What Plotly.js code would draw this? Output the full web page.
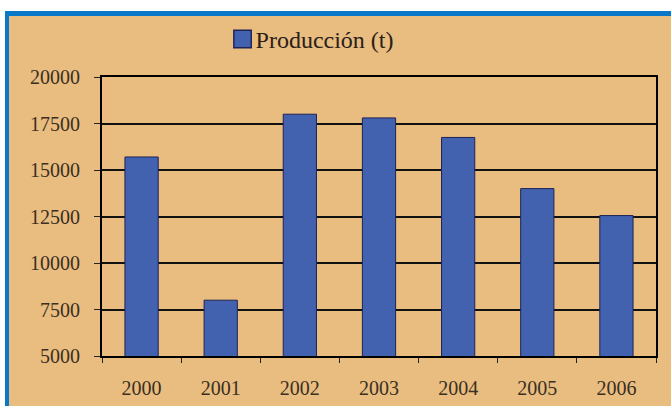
<!DOCTYPE html>
<html>
<head>
<meta charset="utf-8">
<script src="https://cdn.plot.ly/plotly-3.0.1.min.js"></script>
<style>
  html, body { margin:0; padding:0; background:#ffffff; width:671px; height:406px; overflow:hidden; }
  #frame { position:absolute; left:5px; top:11px; width:666px; height:395px;
           box-sizing:border-box; border-left:4px solid #0a78c8; border-top:5px solid #0a78c8; background:#e9bc80; }
  #chart { position:absolute; left:9px; top:16px; width:662px; height:390px; }
  #chart .legend .legendpoints path { transform: translate(27px,0) scale(1.45); }
</style>
</head>
<body>
<div id="frame"></div>
<div id="chart"></div>
<script>
const years = ['2000','2001','2002','2003','2004','2005','2006'];
const produccion = [15700, 8000, 18000, 17800, 16750, 14000, 12550];
const seriesName = 'Producción (t)';
const yTicks = [5000, 7500, 10000, 12500, 15000, 17500, 20000];

const tan = '#e9bc80';
const txt = '#3a2f22';
const fontFam = 'Liberation Serif, Times New Roman, serif';

const trace = {
  type: 'bar',
  x: years,
  y: produccion,
  name: seriesName,
  marker: { color: '#4262b0', line: { color: '#1c2456', width: 1 } },
  showlegend: true,
  hoverinfo: 'x+y'
};

const layout = {
  width: 662, height: 390,
  margin: { l: 93, r: 15, t: 61, b: 50, autoexpand: false },
  paper_bgcolor: tan,
  plot_bgcolor: tan,
  font: { family: fontFam, color: txt, size: 18 },
  bargap: 0.58,
  showlegend: true,
  legend: {
    orientation: 'h', xref: 'container', x: 0.312, xanchor: 'left',
    yref: 'container', y: 0.94, yanchor: 'middle',
    bgcolor: 'rgba(0,0,0,0)', font: { family: fontFam, size: 24, color: '#2a2018' }
  },
  xaxis: {
    type: 'category',
    tickson: 'boundaries',
    ticks: 'outside', ticklen: 5, tickwidth: 1, tickcolor: '#222',
    showline: true, linecolor: '#000', linewidth: 2, mirror: true,
    showgrid: false, zeroline: false, automargin: false,
    ticklabelstandoff: 13,
    tickfont: { family: fontFam, size: 20, color: txt }
  },
  yaxis: {
    range: [5000, 20000],
    tickvals: yTicks,
    tickformat: 'd',
    ticks: 'outside', ticklen: 6, tickwidth: 1, tickcolor: '#222',
    showline: true, linecolor: '#000', linewidth: 2, mirror: true,
    showgrid: true, gridcolor: '#111', gridwidth: 2,
    zeroline: false, automargin: false,
    ticklabelstandoff: 10,
    tickfont: { family: fontFam, size: 20, color: txt }
  }
};

Plotly.newPlot('chart', [trace], layout, { displayModeBar: false, staticPlot: true });
</script>
</body>
</html>
